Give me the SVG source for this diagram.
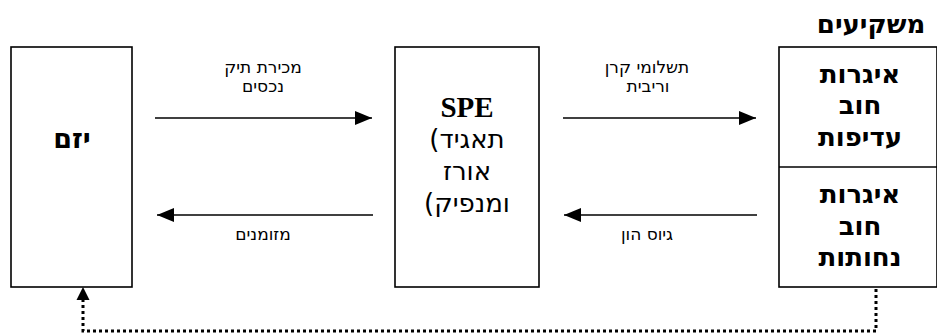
<svg xmlns="http://www.w3.org/2000/svg" width="937" height="336" viewBox="0 0 937 336">
<style>
.box{fill:#fff;stroke:#000;stroke-width:1.6}
.lbl{font-family:"DejaVu Sans","Liberation Sans",sans-serif;font-size:17px;fill:#000;text-anchor:middle}
.big{font-family:"DejaVu Sans","Liberation Sans",sans-serif;font-weight:bold;font-size:26px;fill:#000;text-anchor:middle}
.lat{font-family:"Liberation Serif","Times New Roman",serif;font-weight:bold;font-size:29px;fill:#000;text-anchor:middle}
.spe{font-family:"DejaVu Sans","Liberation Sans",sans-serif;font-size:26px;fill:#000;text-anchor:middle}
.arr{stroke:#000;stroke-width:1.6;fill:none}
.dot{stroke:#000;stroke-width:3;stroke-dasharray:3 3;fill:none}
</style>
<defs>
<marker id="ah" markerUnits="userSpaceOnUse" markerWidth="18" markerHeight="14" refX="17" refY="7" orient="auto">
<path d="M0,0 L17,7 L0,14 Z" fill="#000"/>
</marker>
</defs>
<text x="871" y="33" class="big" style="font-size:26px">משקיעים</text>
<g id="yazam">
<rect class="box" x="11" y="47" width="121" height="240"/>
<text x="72" y="148" class="big" style="font-size:27px">יזם</text>
</g>
<g id="spe">
<rect class="box" x="395" y="47" width="144" height="240"/>
<text x="467" y="117" class="lat">SPE</text>
<text x="467" y="148" class="spe">&#x200E;(תאגיד</text>
<text x="467" y="180" class="spe">אורז</text>
<text x="467" y="212" class="spe" direction="rtl" style="text-anchor:middle">ומנפיק)</text>
</g>
<g id="investors">
<rect class="box" x="779" y="47" width="158" height="240"/>
<line x1="779" y1="167" x2="937" y2="167" stroke="#000" stroke-width="1.6"/>
<g id="senior">
<text x="860" y="83" class="big">איגרות</text>
<text x="860" y="114" class="big">חוב</text>
<text x="860" y="146" class="big">עדיפות</text>
</g>
<g id="junior">
<text x="860" y="203" class="big">איגרות</text>
<text x="860" y="235" class="big">חוב</text>
<text x="860" y="266" class="big">נחותות</text>
</g>
</g>
<g id="connectors">
<line class="arr" x1="155" y1="118" x2="372" y2="118" marker-end="url(#ah)"/>
<line class="arr" x1="563" y1="118" x2="756" y2="118" marker-end="url(#ah)"/>
<line class="arr" x1="373" y1="215" x2="157" y2="215" marker-end="url(#ah)"/>
<line class="arr" x1="757" y1="215" x2="564" y2="215" marker-end="url(#ah)"/>
<path class="dot" d="M876,289 V331 H83 V300"/>
<path d="M76.5,300 L83,287 L89.5,300 Z" fill="#000"/>
<text x="263" y="73" class="lbl">מכירת תיק</text>
<text x="263" y="92" class="lbl">נכסים</text>
<text x="647" y="73" class="lbl">תשלומי קרן</text>
<text x="648" y="92" class="lbl">וריבית</text>
<text x="263" y="240" class="lbl">מזומנים</text>
<text x="647" y="240" class="lbl">גיוס הון</text>
</g>
</svg>
